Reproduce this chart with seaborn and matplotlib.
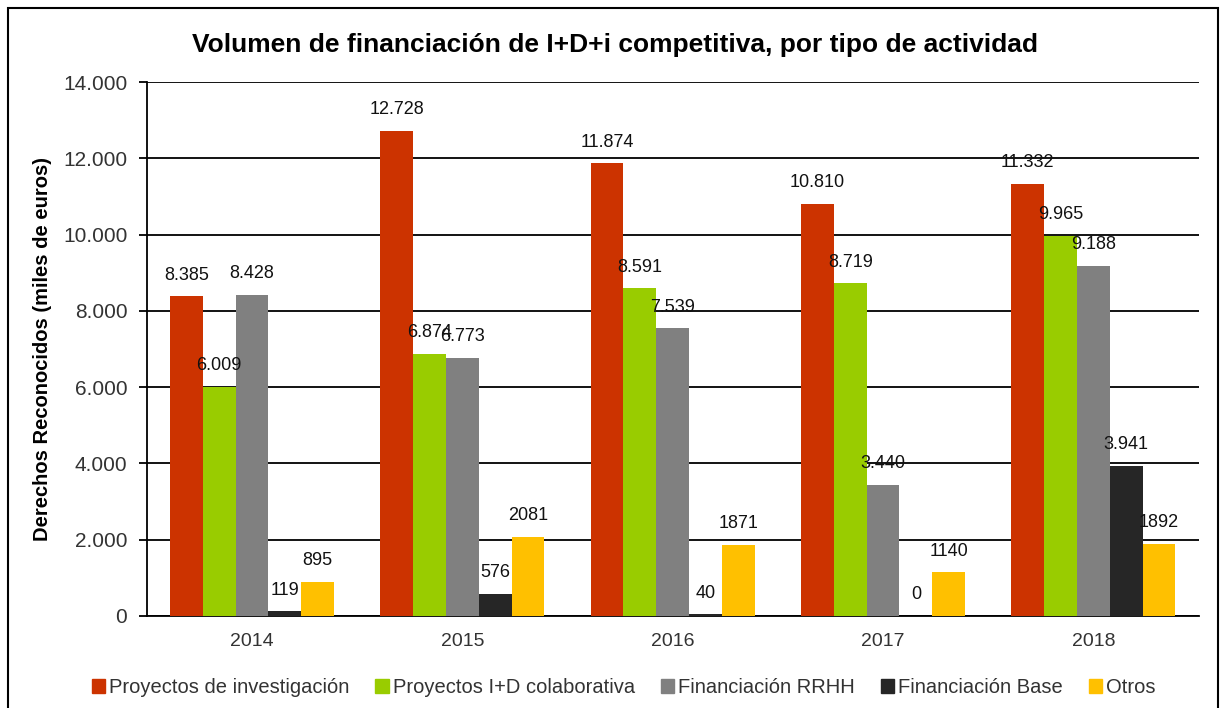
import pandas as pd
import seaborn as sns
import matplotlib.pyplot as plt
from matplotlib.patches import Rectangle

years = ["2014", "2015", "2016", "2017", "2018"]
series = ["Proyectos de investigación", "Proyectos I+D colaborativa",
          "Financiación RRHH", "Financiación Base", "Otros"]
investigacion = [8385, 12728, 11874, 10810, 11332]
colaborativa = [6009, 6874, 8591, 8719, 9965]
rrhh = [8428, 6773, 7539, 3440, 9188]
base = [119, 576, 40, 0, 3941]
otros = [895, 2081, 1871, 1140, 1892]
colors = ["#CC3300", "#99CC00", "#808080", "#262626", "#FFC000"]
# Otros labels are written without thousands separator in the original
use_sep = [True, True, True, True, False]

sns.set_theme(style="white")
plt.rcParams['font.family'] = ['Liberation Sans', 'DejaVu Sans']

values = [investigacion, colaborativa, rrhh, base, otros]
rows = []
for s, vals in zip(series, values):
    for y, v in zip(years, vals):
        rows.append({"year": y, "serie": s, "value": v})
df = pd.DataFrame(rows)

fig = plt.figure(figsize=(12.23, 7.08), dpi=100)
ax = fig.add_axes([0.120, 0.130, 0.860, 0.754])

sns.barplot(data=df, x="year", y="value", hue="serie", palette=colors,
            hue_order=series, order=years, width=0.78, gap=0, saturation=1,
            linewidth=0, legend=False, ax=ax, zorder=3)


def fmt(v, sep):
    s = "{:,}".format(int(v))
    return s.replace(",", ".") if sep else s.replace(",", "")


for cont, vals, sep in zip(ax.containers, values, use_sep):
    ax.bar_label(cont, labels=[fmt(v, sep) for v in vals], padding=9,
                 fontsize=13, color="#111111", zorder=5)

ax.set_ylim(0, 14000)
ax.set_xlim(-0.5, 4.5)
ax.set_yticks(range(0, 14001, 2000))
ax.set_yticklabels([fmt(v, True) for v in range(0, 14001, 2000)],
                   fontsize=15, color="#333333")
ax.yaxis.grid(True, color="black", linewidth=1.3, zorder=0)
ax.set_axisbelow(True)

ax.set_xticks(range(len(years)))
ax.set_xticklabels(years, fontsize=14, color="#333333")
ax.set_xticks([i + 0.5 for i in range(-1, len(years))], minor=True)
ax.tick_params(axis="x", which="major", length=0, pad=12)
ax.tick_params(axis="x", which="minor", length=6, width=1.3, direction="out", color="black")
ax.tick_params(axis="y", length=6, width=1.3, direction="out", color="black", left=True, pad=8)

for side in ["top", "right"]:
    ax.spines[side].set_visible(False)
for side in ["left", "bottom"]:
    ax.spines[side].set_color("black")
    ax.spines[side].set_linewidth(1.3)

ax.set_xlabel("")
ax.set_ylabel("Derechos Reconocidos (miles de euros)", fontsize=14.5,
              fontweight="bold", color="black", labelpad=8)

fig.text(0.503, 0.937, "Volumen de financiación de I+D+i competitiva, por tipo de actividad",
         ha="center", va="center", fontsize=19, fontweight="bold", color="black")

handles = [Rectangle((0, 0), 1, 1, color=c) for c in colors]
fig.legend(handles, series, loc="center", bbox_to_anchor=(0.51, 0.029), ncol=5,
           frameon=False, fontsize=14.5, handlelength=0.65, handleheight=0.65,
           handletextpad=0.2, columnspacing=1.3, labelcolor="#333333")

fig.patches.append(Rectangle((8 / 1223, -0.05), 1210 / 1223, 1 - 8 / 708 + 0.05,
                             transform=fig.transFigure, fill=False,
                             edgecolor="black", linewidth=1.5))

fig.savefig("out.png", dpi=100)
